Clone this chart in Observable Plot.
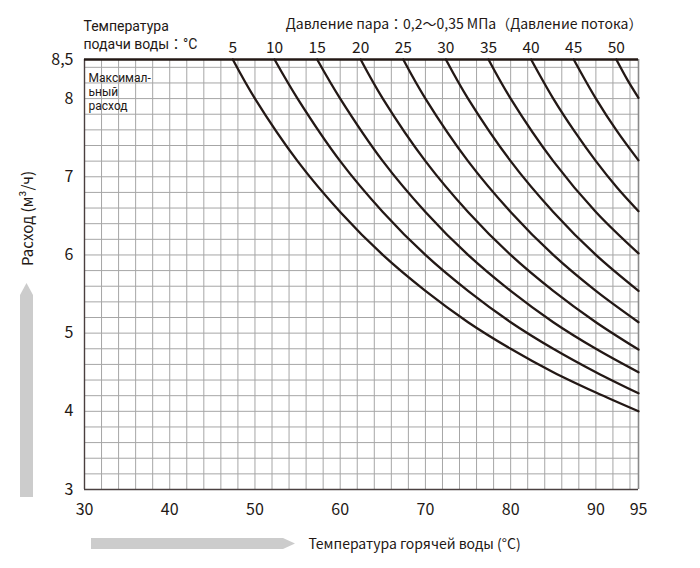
<!DOCTYPE html>
<html>
<head>
<meta charset="utf-8">
<script src="https://cdn.jsdelivr.net/npm/d3@7"></script>
<script src="https://cdn.jsdelivr.net/npm/@observablehq/plot@0.6"></script>
<style>
  html, body { margin: 0; padding: 0; background: #fff; }
  #chart { width: 700px; height: 568px; }
</style>
</head>
<body>
<div id="chart"></div>
<script>
// Supply water temperatures (°C) labelled above each curve
const supplyTemps = [5, 10, 15, 20, 25, 30, 35, 40, 45, 50];

// Curves: [hot water temperature °C, flow m³/h]
const flow5  = [[47.4, 8.5], [50, 8.0], [55, 7.2], [60, 6.55], [65, 6.0], [70, 5.54], [75, 5.14], [80, 4.8], [85, 4.5], [90, 4.24], [95, 4.0]];
const flow10 = [[52.3, 8.5], [55, 8.0], [60, 7.2], [65, 6.55], [70, 6.0], [75, 5.54], [80, 5.14], [85, 4.8], [90, 4.5], [95, 4.23]];
const flow15 = [[57.3, 8.5], [60, 8.0], [65, 7.2], [70, 6.55], [75, 6.0], [80, 5.54], [85, 5.14], [90, 4.8], [95, 4.5]];
const flow20 = [[62.4, 8.5], [65, 8.0], [70, 7.2], [75, 6.55], [80, 6.0], [85, 5.54], [90, 5.14], [95, 4.79]];
const flow25 = [[67.4, 8.5], [70, 8.0], [75, 7.2], [80, 6.55], [85, 6.0], [90, 5.54], [95, 5.14]];
const flow30 = [[72.4, 8.5], [75, 8.0], [80, 7.2], [85, 6.55], [90, 6.0], [95, 5.54]];
const flow35 = [[77.4, 8.5], [80, 8.0], [85, 7.2], [90, 6.55], [95, 6.02]];
const flow40 = [[82.4, 8.5], [85, 8.0], [87.5, 7.58], [90, 7.2], [92.5, 6.86], [95, 6.56]];
const flow45 = [[87.4, 8.5], [90, 8.0], [92.5, 7.58], [95, 7.21]];
const flow50 = [[92.4, 8.5], [93.7, 8.24], [95, 8.01]];
const curves = [flow5, flow10, flow15, flow20, flow25, flow30, flow35, flow40, flow45, flow50];

// Axis ticks and grid
const xTicks = [30, 40, 50, 60, 70, 80, 90, 95];
const yTicks = [3, 4, 5, 6, 7, 8, 8.5];
const xGrid = d3.range(32, 95, 2);
const yGrid = d3.range(1, 28).map(i => 3 + i * 0.2);

// Texts
const titleLeft1 = "Температура";
const titleLeft2 = "подачи воды：°C";
const titleRight = "Давление пара：0,2〜0,35 МПа（Давление потока）";
const boxNote = ["Максимал-", "ьный", "расход"];
const xTitle = "Температура горячей воды (°C)";
const yTitle = "Расход (м³/ч)";

const rows = curves.flatMap((c, i) => c.map(([x, y]) => ({ts: supplyTemps[i], x, y})));
const labels = curves.map((c, i) => ({ts: supplyTemps[i], x: c[0][0], y: c[0][1]}));

const ink = "#231815";
const font = "'Noto Sans CJK JP', 'Noto Sans', sans-serif";
const tight = "Roboto, 'Noto Sans CJK JP', sans-serif";

const chart = Plot.plot({
  width: 700,
  height: 568,
  marginLeft: 84,
  marginRight: 62,
  marginTop: 59,
  marginBottom: 79,
  x: {domain: [30, 95]},
  y: {domain: [3, 8.5]},
  style: {fontFamily: font, fontSize: "14px", color: ink, background: "#fff", overflow: "visible"},
  marks: [
    Plot.ruleX(xGrid, {stroke: "#a6a6a6", strokeWidth: 1}),
    Plot.ruleY(yGrid, {stroke: "#a6a6a6", strokeWidth: 1}),
    Plot.ruleX([95], {stroke: "#8a8a8a", strokeWidth: 1.6}),
    Plot.ruleX([30], {stroke: "#4a4040", strokeWidth: 1.4}),
    Plot.ruleY([3], {stroke: "#4a4040", strokeWidth: 1.4}),
    Plot.line(rows, {x: "x", y: "y", z: "ts", curve: "catmull-rom", stroke: ink, strokeWidth: 2.3}),
    Plot.ruleY([8.5], {stroke: ink, strokeWidth: 2.6}),
    Plot.text(labels, {x: "x", y: "y", text: d => String(d.ts), lineAnchor: "bottom", dy: -7, fontSize: 15.5, fill: ink}),
    Plot.axisX({ticks: xTicks, tickSize: 0, tickPadding: 14, fontSize: 16, label: null}),
    Plot.axisY({ticks: yTicks, tickFormat: d => String(d).replace(".", ","), tickSize: 0, tickPadding: 11, fontSize: 16, label: null}),
    Plot.text([titleLeft1], {frameAnchor: "top-left", textAnchor: "start", lineAnchor: "bottom", dx: -1, dy: -29, fontSize: 14, fontFamily: tight, fill: ink}),
    Plot.text([titleLeft2], {frameAnchor: "top-left", textAnchor: "start", lineAnchor: "bottom", dx: -1, dy: -11, fontSize: 14, fontFamily: tight, fill: ink}),
    Plot.text([titleRight], {frameAnchor: "top-right", textAnchor: "end", lineAnchor: "bottom", dx: 4, dy: -31, fontSize: 14, fill: ink}),
    Plot.text([boxNote[0]], {frameAnchor: "top-left", textAnchor: "start", lineAnchor: "bottom", dx: 4, dy: 22, fontSize: 12, fontFamily: tight, fill: ink}),
    Plot.text([boxNote[1]], {frameAnchor: "top-left", textAnchor: "start", lineAnchor: "bottom", dx: 4, dy: 36, fontSize: 12, fontFamily: tight, fill: ink}),
    Plot.text([boxNote[2]], {frameAnchor: "top-left", textAnchor: "start", lineAnchor: "bottom", dx: 4, dy: 50, fontSize: 12, fontFamily: tight, fill: ink}),
    Plot.text([xTitle], {frameAnchor: "bottom-left", textAnchor: "start", lineAnchor: "bottom", dx: 224, dy: 59, fontSize: 14, fill: ink}),
    Plot.text([yTitle], {frameAnchor: "left", rotate: -90, textAnchor: "middle", lineAnchor: "middle", dx: -56, dy: -56, fontSize: 15, fill: ink})
  ]
});

// Decorative grey direction arrows
const svg = d3.select(chart);
svg.insert("polygon", ":first-child")
  .attr("points", "20,497 20,295 26.5,283 33,295 33,497")
  .attr("fill", "#cccccc");
svg.insert("polygon", ":first-child")
  .attr("points", "91,538 283,538 295,543.5 283,549 91,549")
  .attr("fill", "#cccccc");

document.getElementById("chart").append(chart);
</script>
</body>
</html>
